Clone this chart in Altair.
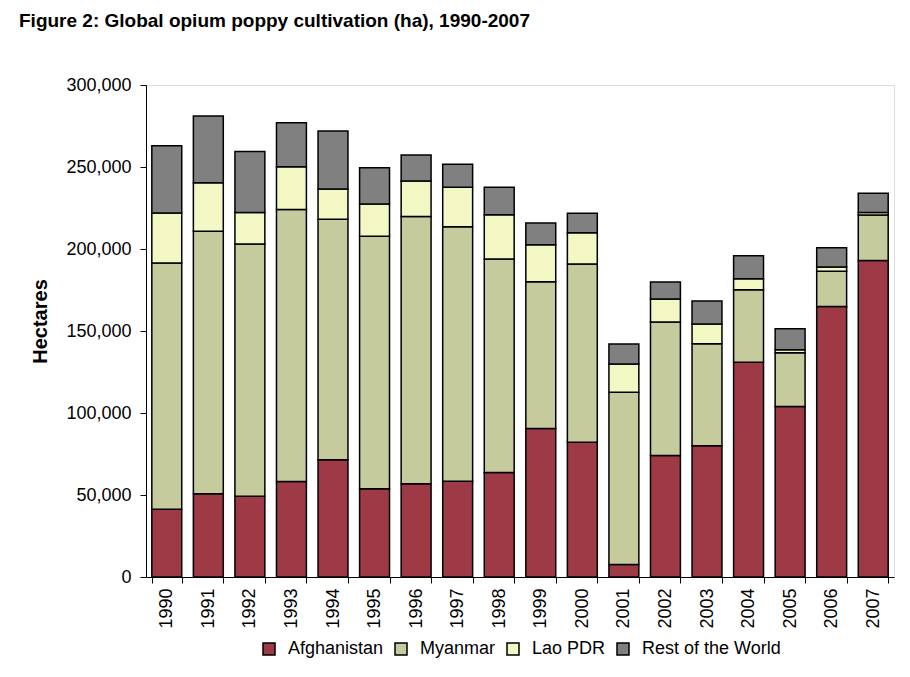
import altair as alt
import pandas as pd

years = [str(y) for y in range(1990, 2008)]
afghanistan = [41300, 50800, 49300, 58300, 71470, 53759, 56824, 58416, 63674,
               90583, 82171, 7606, 74100, 80000, 131000, 104000, 165000, 193000]
myanmar = [150100, 160000, 153700, 165800, 146600, 154070, 163000, 155150, 130300,
           89500, 108700, 105000, 81400, 62200, 44200, 32800, 21500, 27700]
lao_pdr = [30580, 29625, 19190, 26040, 18520, 19650, 21601, 24082, 26837,
           22543, 19052, 17255, 14000, 12000, 6600, 1800, 2500, 1500]
rest_of_world = [41000, 40700, 37200, 26900, 35400, 22100, 15900, 14000, 16800,
                 13200, 11900, 12200, 10400, 14100, 14100, 12800, 11800, 11800]

series = ["Afghanistan", "Myanmar", "Lao PDR", "Rest of the World"]
colors = ["#9E3A45", "#C6CB9E", "#F2F7C3", "#808080"]

rows = []
for name, vals in zip(series, [afghanistan, myanmar, lao_pdr, rest_of_world]):
    for yr, v in zip(years, vals):
        rows.append({"Year": yr, "Region": name, "Hectares": v, "order": series.index(name)})
df = pd.DataFrame(rows)

FONT = "Liberation Sans"

chart = alt.Chart(df).mark_bar(stroke="black", strokeWidth=1.5).encode(
    x=alt.X("Year:N", sort=years,
            scale=alt.Scale(paddingInner=0.28, paddingOuter=0.14),
            axis=alt.Axis(title=None, labelAngle=270, tickBand="extent",
                          tickSize=6, labelPadding=5, labelFontSize=18,
                          labelFont=FONT, labelColor="black",
                          domainColor="black", tickColor="black")),
    y=alt.Y("Hectares:Q", stack="zero",
            scale=alt.Scale(domain=[0, 300000], nice=False),
            axis=alt.Axis(title="Hectares", values=[0, 50000, 100000, 150000, 200000, 250000, 300000],
                          format=",d", grid=False, tickSize=6, labelPadding=9,
                          labelFontSize=18, labelFont=FONT, labelColor="black",
                          domainColor="black", tickColor="black",
                          titleFont=FONT, titleFontSize=20, titleFontWeight="bold",
                          titleColor="black", titleX=-106, titleY=236,
                          titleBaseline="middle", titleAngle=270)),
    color=alt.Color("Region:N", sort=series,
                    scale=alt.Scale(domain=series, range=colors),
                    legend=alt.Legend(title=None, orient="none", direction="horizontal",
                                      legendX=114, legendY=555,
                                      symbolType="square", symbolSize=144,
                                      symbolStrokeColor="black", symbolStrokeWidth=1.5,
                                      symbolOpacity=1,
                                      labelFont=FONT, labelFontSize=18, labelColor="black",
                                      labelOffset=10, columnPadding=8, padding=0)),
    order=alt.Order("order:Q", sort="ascending"),
).properties(
    width=748,
    height=492,
    autosize=alt.AutoSizeParams(type="none"),
    padding={"left": 138, "top": 77, "right": 8, "bottom": 92},
    title=alt.TitleParams(
        "Figure 2: Global opium poppy cultivation (ha), 1990-2007",
        anchor="start", frame="group", dx=-127, offset=45,
        font=FONT, fontSize=19, fontWeight="bold", color="black",
    ),
).configure_view(stroke=None).configure(background="white")

chart.save("out.html", embed_options={"renderer": "svg", "actions": False})
